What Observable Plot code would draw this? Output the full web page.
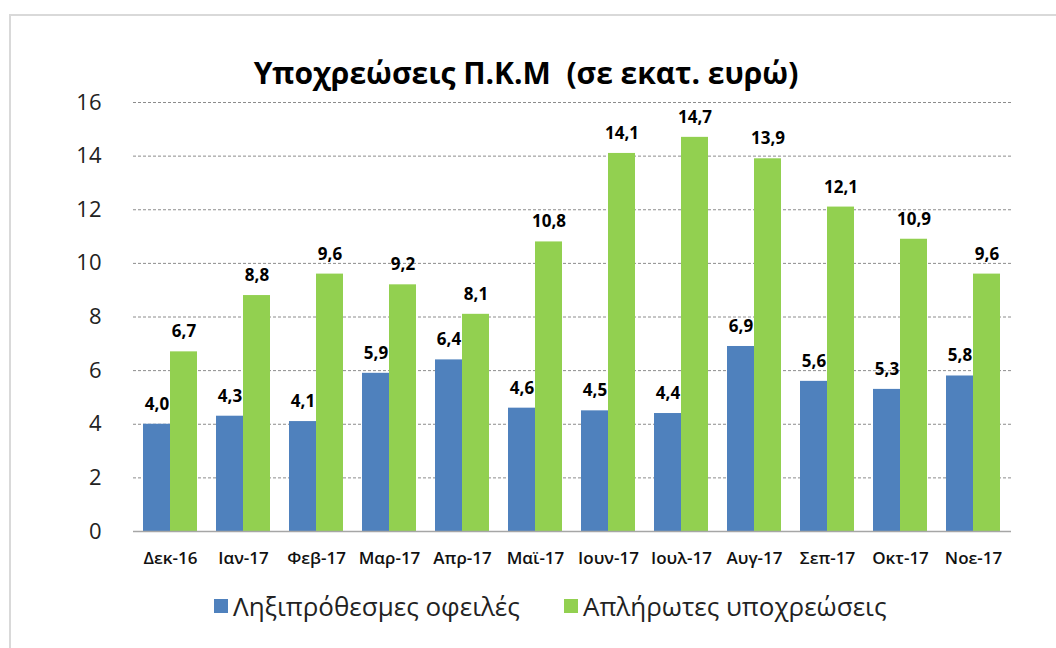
<!DOCTYPE html>
<html>
<head>
<meta charset="utf-8">
<script src="https://cdn.jsdelivr.net/npm/d3@7"></script>
<script src="https://cdn.jsdelivr.net/npm/@observablehq/plot@0.6"></script>
<style>
  body { margin: 0; background: #fff; font-family: "Open Sans", "Noto Sans", sans-serif; }
  #frame { position: absolute; left: 9px; top: 14px; width: 1100px; height: 700px; border: 2px solid #d9d9d9; box-sizing: border-box; }
  #title { position: absolute; left: 0; top: 53px; width: 1052px; text-align: center; font-size: 30px; line-height: 40px; font-weight: bold; color: #000; }
  #chart { position: absolute; left: 0; top: 70px; }
  #legend { position: absolute; left: 0; top: 589px; width: 1100px; font-size: 26px; line-height: 34px; color: #222; }
  .item { position: absolute; top: 0; display: flex; align-items: center; white-space: nowrap; }
  .sw { width: 14px; height: 14px; margin-right: 5px; }
</style>
</head>
<body>
<div id="frame"></div>
<div id="title">Υποχρεώσεις Π.Κ.Μ&nbsp; (σε εκατ. ευρώ)</div>
<div id="chart"></div>
<div id="legend"></div>
<script>
const months = ["Δεκ-16","Ιαν-17","Φεβ-17","Μαρ-17","Απρ-17","Μαϊ-17","Ιουν-17","Ιουλ-17","Αυγ-17","Σεπ-17","Οκτ-17","Νοε-17"];
const overdue = [4.0, 4.3, 4.1, 5.9, 6.4, 4.6, 4.5, 4.4, 6.9, 5.6, 5.3, 5.8];
const unpaid = [6.7, 8.8, 9.6, 9.2, 8.1, 10.8, 14.1, 14.7, 13.9, 12.1, 10.9, 9.6];
const seriesNames = ["Ληξιπρόθεσμες οφειλές", "Απλήρωτες υποχρεώσεις"];
const seriesColors = ["#4F81BD", "#92D050"];
const yTicks = [0, 2, 4, 6, 8, 10, 12, 14, 16];

const tableOverdue = months.map((m, i) => ({month: m, value: overdue[i]}));
const tableUnpaid = months.map((m, i) => ({month: m, value: unpaid[i]}));
const fmt = v => d3.format(".1f")(v).replace(".", ",");

function build(bw) {
  const half = bw / 2;
  return Plot.plot({
    width: 1056,
    height: 501,
    marginLeft: 133,
    marginRight: 45,
    marginTop: 32,
    marginBottom: 40,
    style: {fontFamily: "'Open Sans', 'Noto Sans', sans-serif", background: "transparent"},
    x: {domain: months, paddingInner: 0.26, paddingOuter: 0.14, label: null},
    y: {domain: [0, 16], label: null},
    marks: [
      Plot.gridY(yTicks.filter(d => d > 0), {stroke: "#8c8c8c", strokeOpacity: 1, strokeDasharray: "3,2", strokeWidth: 1}),
      Plot.barY(tableOverdue, {x: "month", y: "value", fill: seriesColors[0], insetRight: half}),
      Plot.barY(tableUnpaid, {x: "month", y: "value", fill: seriesColors[1], insetLeft: half}),
      Plot.ruleY([0], {stroke: "#a6a6a6", strokeWidth: 1.5}),
      Plot.text(tableOverdue, {x: "month", y: "value", text: d => fmt(d.value), dx: -half / 2, dy: -20, fontSize: 17, fontWeight: "bold", fill: "#000"}),
      Plot.text(tableUnpaid, {x: "month", y: "value", text: d => fmt(d.value), dx: half / 2, dy: -20, fontSize: 17, fontWeight: "bold", fill: "#000"}),
      Plot.axisY(yTicks, {tickSize: 0, tickPadding: 32, fontSize: 22, fill: "#222", label: null}),
      Plot.axisX({tickSize: 0, tickPadding: 20, fontSize: 17, fontWeight: 600, fill: "#111", label: null})
    ]
  });
}
const first = build(0);
const bw = first.scale("x").bandwidth;
const chart = build(bw);
document.getElementById("chart").appendChild(chart);

const legend = document.getElementById("legend");
const lefts = [214, 564];
seriesNames.forEach((s, i) => {
  const it = document.createElement("div");
  it.className = "item";
  it.style.left = lefts[i] + "px";
  const sw = document.createElement("div");
  sw.className = "sw";
  sw.style.background = seriesColors[i];
  const t = document.createElement("span");
  t.textContent = s;
  it.appendChild(sw); it.appendChild(t);
  legend.appendChild(it);
});
</script>
</body>
</html>
